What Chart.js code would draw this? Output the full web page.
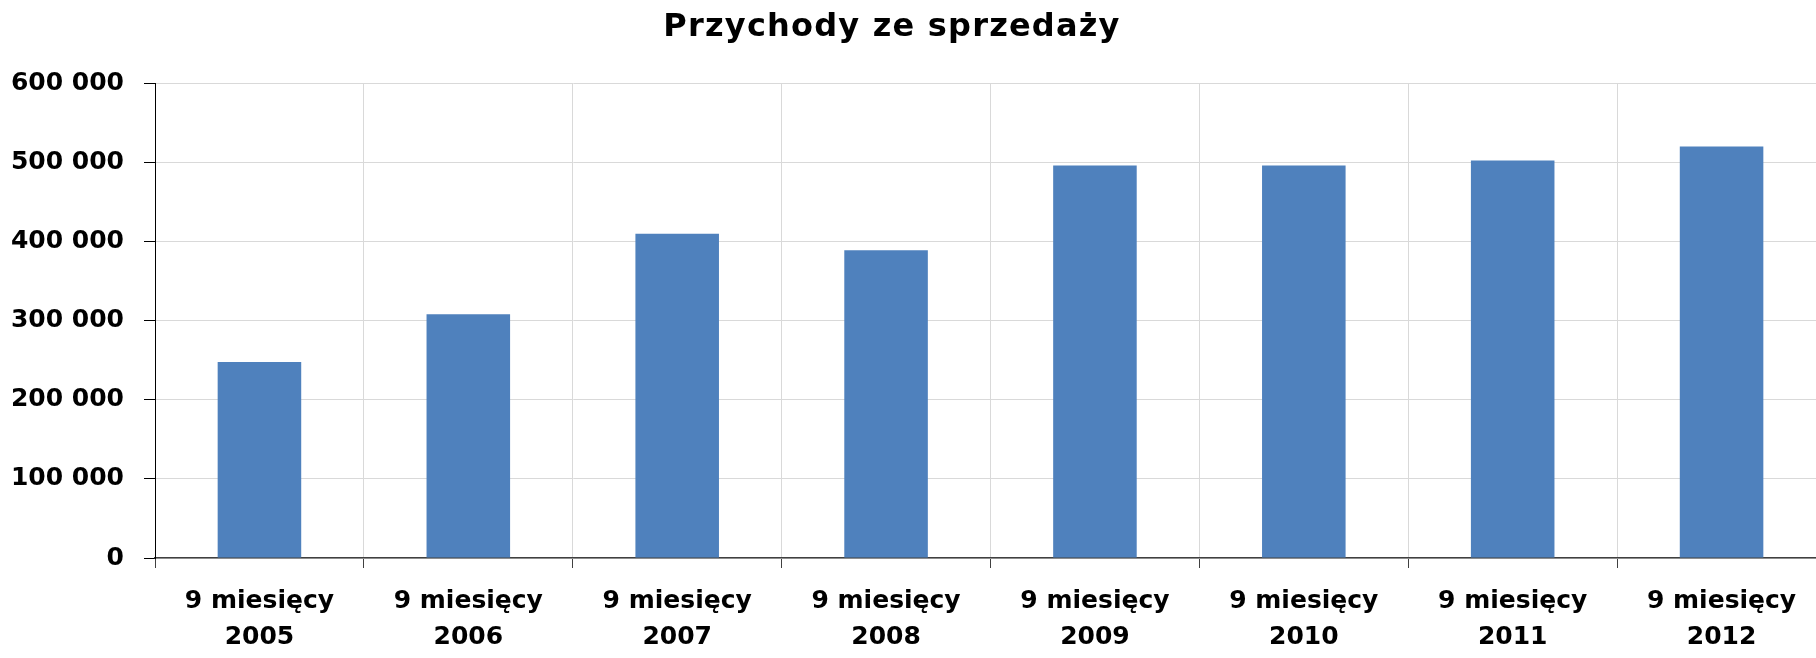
<!DOCTYPE html>
<html>
<head>
<meta charset="utf-8">
<script src="https://cdn.jsdelivr.net/npm/chart.js@4"></script>
<style>
  html, body { margin: 0; padding: 0; overflow: hidden; background: #fff; }
</style>
</head>
<body>
<canvas id="chart"></canvas>
<script>
var chartTitle = 'Przychody ze sprzedaży';
var categories = [
  ['9 miesięcy', '2005'],
  ['9 miesięcy', '2006'],
  ['9 miesięcy', '2007'],
  ['9 miesięcy', '2008'],
  ['9 miesięcy', '2009'],
  ['9 miesięcy', '2010'],
  ['9 miesięcy', '2011'],
  ['9 miesięcy', '2012']
];
var revenue = [247600, 308000, 409700, 388600, 495800, 495800, 502100, 519800];
var yMin = 0;
var yMax = 600000;
var yStep = 100000;

var ctx = document.getElementById('chart').getContext('2d');
// plot runs a few px past the right edge, like the cropped original
ctx.canvas.width = 1826;
ctx.canvas.height = 658;

function fmt(v) {
  return String(v).replace(/\B(?=(\d{3})+(?!\d))/g, ' ');
}

// title drawn by hand so it can sit off-centre like the original
var titlePlugin = {
  id: 'excelTitle',
  afterDraw: function(chart) {
    var c = chart.ctx;
    c.save();
    c.font = 'bold 32px "DejaVu Sans"';
    c.letterSpacing = '1.2px';
    c.fillStyle = '#000';
    c.textAlign = 'center';
    c.textBaseline = 'alphabetic';
    c.fillText(chartTitle, 892, 36);
    c.restore();
  }
};

var chart = new Chart(ctx, {
  type: 'bar',
  data: {
    labels: categories,
    datasets: [{
      data: revenue,
      backgroundColor: '#4F81BD',
      borderWidth: 0,
      barPercentage: 0.4,
      categoryPercentage: 1
    }]
  },
  options: {
    responsive: false,
    animation: false,
    layout: { padding: { top: 83, left: 0, right: 0, bottom: 0 } },
    plugins: {
      legend: { display: false },
      title: { display: false },
      tooltip: { enabled: false }
    },
    scales: {
      x: {
        afterFit: function(s) { s.height = 100; },
        grid: {
          offset: true,
          color: '#D9D9D9',
          tickColor: '#404040',
          tickLength: 10
        },
        border: { color: '#404040', width: 1.5 },
        ticks: {
          color: '#000',
          padding: 15,
          maxRotation: 0,
          autoSkip: false,
          font: { family: '"DejaVu Sans"', size: 25, weight: 'bold', lineHeight: 1.44 }
        }
      },
      y: {
        min: yMin,
        max: yMax,
        afterFit: function(s) { s.width = 155; },
        grid: {
          color: '#D9D9D9',
          tickColor: '#000',
          tickLength: 11
        },
        border: { color: '#000', width: 1 },
        ticks: {
          stepSize: yStep,
          color: '#000',
          padding: 20,
          callback: function(v) { return fmt(v); },
          font: { family: '"DejaVu Sans"', size: 25, weight: 'bold' }
        }
      }
    }
  },
  plugins: [titlePlugin]
});
</script>
</body>
</html>
